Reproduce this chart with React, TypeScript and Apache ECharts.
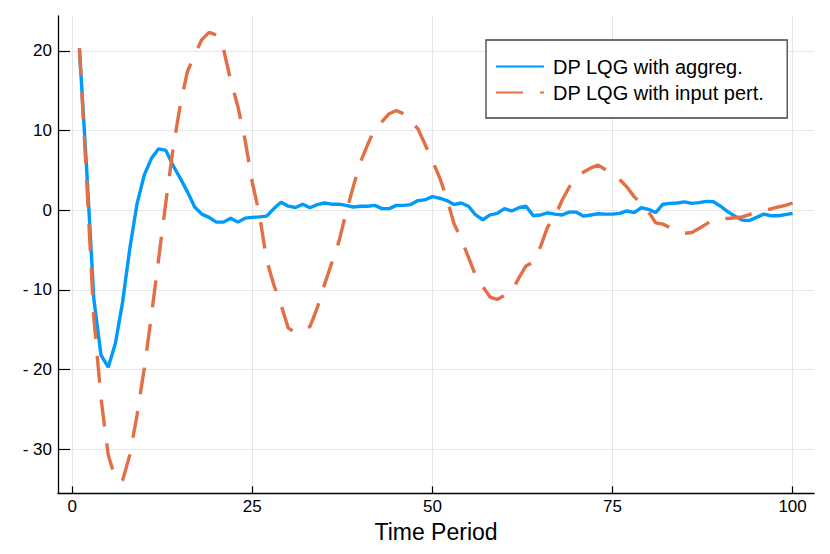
import React, { useEffect, useRef } from "react";
import * as echarts from "echarts";

const periods: number[] = Array.from({ length: 100 }, (_, i) => i + 1);

const aggreg: number[] = [
  20.3, 5.3, -11.1, -18.2, -19.7, -16.7, -11.5, -4.8, 0.8, 4.4,
  6.5, 7.7, 7.5, 5.6, 4.0, 2.3, 0.4, -0.5, -0.9, -1.5,
  -1.5, -1.0, -1.5, -1.0, -0.9, -0.84, -0.75, 0.2, 1.0, 0.5,
  0.33, 0.75, 0.3, 0.7, 0.9, 0.75, 0.75, 0.6, 0.4, 0.5,
  0.5, 0.6, 0.2, 0.2, 0.6, 0.6, 0.7, 1.2, 1.3, 1.7,
  1.5, 1.2, 0.7, 0.9, 0.5, -0.6, -1.2, -0.6, -0.4, 0.2,
  -0.1, 0.3, 0.5, -0.7, -0.6, -0.35, -0.5, -0.6, -0.25, -0.25,
  -0.75, -0.6, -0.45, -0.5, -0.5, -0.4, -0.1, -0.3, 0.3, 0.1,
  -0.3, 0.75, 0.85, 0.9, 1.05, 0.85, 0.95, 1.1, 1.05, 0.5,
  -0.2, -0.75, -1.25, -1.3, -0.9, -0.5, -0.7, -0.7, -0.55, -0.4,
];

const inputPert: number[] = [
  20.3, 3.9, -13.5, -23.6, -30.7, -33.7, -33.9, -30.7, -25.7, -19.9,
  -13.2, -6.1, 1.0, 7.7, 13.2, 17.4, 19.5, 21.4, 22.3, 22.0,
  20.2, 16.3, 13.0, 8.8, 3.5, -0.6, -6.3, -9.4, -11.9, -14.8,
  -15.35, -15.1, -14.6, -12.3, -9.4, -6.7, -4.0, -0.4, 2.9, 6.0,
  8.2, 10.2, 11.1, 12.1, 12.5, 12.1, 11.2, 10.2, 8.2, 6.2,
  4.1, 1.5, -1.7, -3.6, -5.9, -8.2, -9.6, -10.9, -11.2, -10.7,
  -10.2, -8.5, -7.0, -6.5, -4.6, -2.1, -0.8, 1.25, 2.9, 4.1,
  4.8, 5.3, 5.65, 5.1, 4.6, 3.85, 2.9, 1.7, 0.8, -0.2,
  -1.6, -1.75, -2.2, -2.7, -2.9, -2.8, -2.3, -1.75, -1.2, -1.0,
  -1.05, -0.95, -0.85, -0.55, -0.2, 0.0, 0.15, 0.4, 0.6, 0.9,
];

const seriesNames: string[] = ["DP LQG with aggreg.", "DP LQG with input pert."];
const xTicks: number[] = [0, 25, 50, 75, 100];
const yTicks: number[] = [-30, -20, -10, 0, 10, 20];

const FONT = '"Liberation Sans", Arial, Helvetica, sans-serif';

export default function App() {
  const ref = useRef<HTMLDivElement>(null);
  useEffect(() => {
    if (!ref.current) return;
    const chart = echarts.init(ref.current, null, { renderer: "svg" });
    const toPairs = (vals: number[]) => periods.map((t, i) => [t, vals[i]]);
    chart.setOption({
      animation: false,
      backgroundColor: "#ffffff",
      textStyle: { fontFamily: FONT },
      grid: { left: 58, right: 16, top: 16, bottom: 60.7, containLabel: false },
      legend: {
        orient: "vertical",
        left: 486,
        top: 40,
        padding: [16.5, 23, 15.5, 9],
        itemWidth: 48,
        itemHeight: 14,
        itemGap: 6,
        backgroundColor: "#ffffff",
        borderColor: "#404040",
        borderWidth: 1.3,
        borderRadius: 0,
        itemStyle: { opacity: 0 },
        textStyle: {
          fontFamily: FONT,
          fontSize: 20,
          lineHeight: 20,
          color: "#000000",
          padding: [0, 0, 0, 4],
        },
        data: seriesNames,
      },
      xAxis: {
        type: "value",
        min: -1.97,
        max: 102.97,
        name: "Time Period",
        nameLocation: "middle",
        nameGap: 26,
        nameTextStyle: { fontFamily: FONT, fontSize: 23, color: "#000000", verticalAlign: "top", lineHeight: 23 },
        axisLine: { show: true, onZero: false, lineStyle: { color: "#000000", width: 1.3 } },
        axisTick: { show: true, inside: true, length: 7, customValues: xTicks, lineStyle: { color: "#000000", width: 1.2 } },
        axisLabel: {
          customValues: xTicks,
          margin: 5,
          fontFamily: FONT,
          fontSize: 17,
          lineHeight: 17,
          color: "#000000",
        },
        splitLine: { show: true, lineStyle: { color: "#e6e6e6", width: 1 } },
      },
      yAxis: {
        type: "value",
        min: -35.52,
        max: 24.36,
        axisLine: { show: true, onZero: false, lineStyle: { color: "#000000", width: 1.3 } },
        axisTick: { show: true, inside: true, length: 12, customValues: yTicks, lineStyle: { color: "#000000", width: 1.2 } },
        axisLabel: {
          customValues: yTicks,
          margin: 6,
          fontFamily: FONT,
          fontSize: 17,
          color: "#000000",
          formatter: (v: number) => (v < 0 ? "- " + Math.abs(v) : String(v)),
        },
        splitLine: { show: true, lineStyle: { color: "#e6e6e6", width: 1 } },
      },
      series: [
        {
          name: seriesNames[0],
          type: "line",
          data: toPairs(aggreg),
          showSymbol: false,
          symbol: "none",
          color: "#009AFA",
          lineStyle: { color: "#009AFA", width: 3.4 },
          z: 2,
        },
        {
          name: seriesNames[1],
          type: "line",
          data: toPairs(inputPert),
          showSymbol: false,
          symbol: "none",
          color: "#E26F46",
          lineStyle: { color: "#E26F46", width: 3.4, type: [27, 17] },
          z: 3,
        },
      ],
    });
    return () => chart.dispose();
  }, []);
  return (
    <div
      ref={ref}
      style={{ position: "fixed", left: 0, top: 0, width: 830, height: 554 }}
    />
  );
}
